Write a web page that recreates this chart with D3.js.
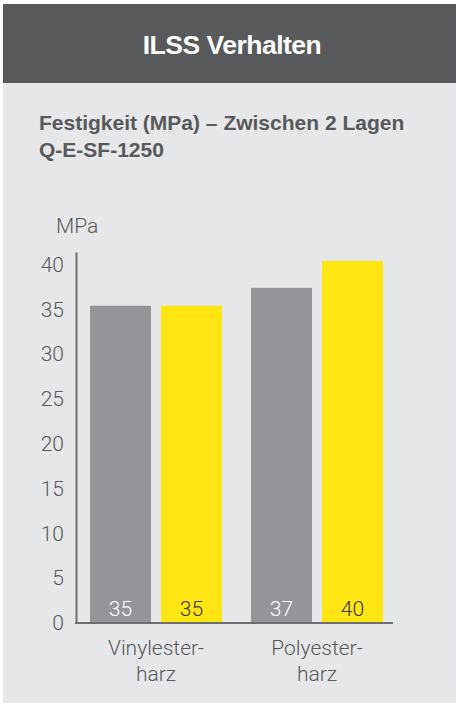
<!DOCTYPE html>
<html>
<head>
<meta charset="utf-8">
<script src="https://cdn.jsdelivr.net/npm/d3@7"></script>
<style>
  html, body { margin: 0; padding: 0; background: #fff; }
  svg { display: block; }
  .light { font-family: Roboto, "Liberation Sans", sans-serif; font-weight: 300; }
</style>
</head>
<body>
<svg id="chart"></svg>
<script>
// chart data
var categories = ["Vinylester-harz", "Polyester-harz"];
var categoryLines = [["Vinylester-", "harz"], ["Polyester-", "harz"]];
var series = ["grau", "gelb"];
var valuesGrau = [35.4, 37.4];
var valuesGelb = [35.4, 40.4];
var yTicks = [0, 5, 10, 15, 20, 25, 30, 35, 40];
var title = "ILSS Verhalten";
var subtitle = ["Festigkeit (MPa) \u2013 Zwischen 2 Lagen", "Q-E-SF-1250"];
var unit = "MPa";

var W = 458, H = 706;
var dark = "#58595b", bg = "#e6e7e8";
var colors = {grau: "#939598", gelb: "#ffe512"};
var labelColors = {grau: "#ffffff", gelb: "#3a3a3a"};

var svg = d3.select("#chart").attr("width", W).attr("height", H);

// panel + header
svg.append("rect").attr("x", 3).attr("y", 4).attr("width", 453).attr("height", 699).attr("fill", bg);
svg.append("rect").attr("x", 3).attr("y", 4).attr("width", 453).attr("height", 79).attr("fill", dark);

svg.append("text")
    .attr("x", 232).attr("y", 54)
    .attr("text-anchor", "middle")
    .attr("fill", "#fff")
    .style("font-family", "'Liberation Sans', Arial, sans-serif")
    .style("font-weight", 700)
    .style("font-size", "26.5px")
    .style("letter-spacing", "-0.5px")
    .text(title);

svg.selectAll(".sub").data(subtitle).enter().append("text")
    .attr("class", "sub")
    .attr("x", 39).attr("y", function(d, i) { return 130 + i * 27; })
    .attr("fill", dark)
    .style("font-family", "'Liberation Sans', Arial, sans-serif")
    .style("font-weight", 700)
    .style("font-size", "21px")
    .text(function(d) { return d; });

// scales
var y = d3.scaleLinear().domain([0, 41.4]).range([623, 252]);

var x0 = d3.scaleBand()
    .domain(categories)
    .range([76, 397])
    .paddingInner(0.18)
    .paddingOuter(0.087);

var x1 = d3.scaleBand()
    .domain(series)
    .range([0, x0.bandwidth()])
    .paddingInner(0.141);

var data = categories.map(function(c, i) {
    return {cat: c, vals: [{s: "grau", v: valuesGrau[i]}, {s: "gelb", v: valuesGelb[i]}]};
});

var fmt = d3.format(".0f");

var groups = svg.selectAll(".grp").data(data).enter().append("g")
    .attr("class", "grp")
    .attr("transform", function(d) { return "translate(" + x0(d.cat) + ",0)"; });

groups.selectAll("rect").data(function(d) { return d.vals; }).enter().append("rect")
    .attr("x", function(d) { return x1(d.s); })
    .attr("y", function(d) { return y(d.v); })
    .attr("width", x1.bandwidth())
    .attr("height", function(d) { return y(0) - y(d.v); })
    .attr("fill", function(d) { return colors[d.s]; });

groups.selectAll(".val").data(function(d) { return d.vals; }).enter().append("text")
    .attr("class", "val light")
    .attr("x", function(d) { return x1(d.s) + x1.bandwidth() / 2; })
    .attr("y", y(0) - 7)
    .attr("text-anchor", "middle")
    .attr("fill", function(d) { return labelColors[d.s]; })
    .style("font-size", "21px")
    .text(function(d) { return fmt(d.v); });

// y axis
var yAxis = d3.axisLeft(y).tickValues(yTicks).tickSize(0).tickPadding(12);
var gy = svg.append("g").attr("transform", "translate(76,0)").call(yAxis);
gy.select(".domain").attr("stroke", "#6d6e71").attr("stroke-width", 2);
gy.selectAll("text").attr("class", "light").attr("fill", dark).style("font-size", "21px");

// x axis line
svg.append("line")
    .attr("x1", 75).attr("x2", 393)
    .attr("y1", y(0)).attr("y2", y(0))
    .attr("stroke", "#6d6e71").attr("stroke-width", 2);

// category labels
var cl = svg.selectAll(".cat").data(categories).enter().append("text")
    .attr("class", "cat light")
    .attr("text-anchor", "middle")
    .attr("fill", dark)
    .style("font-size", "21px");
cl.selectAll("tspan").data(function(d, i) { return categoryLines[i]; }).enter().append("tspan")
    .attr("x", function() { var c = d3.select(this.parentNode).datum(); return x0(c) + x0.bandwidth() / 2; })
    .attr("y", function(d, i) { return 655 + i * 26; })
    .text(function(d) { return d; });

// unit
svg.append("text")
    .attr("class", "light")
    .attr("x", 56).attr("y", 233)
    .attr("fill", dark)
    .style("font-size", "21px")
    .text(unit);
</script>
</body>
</html>
